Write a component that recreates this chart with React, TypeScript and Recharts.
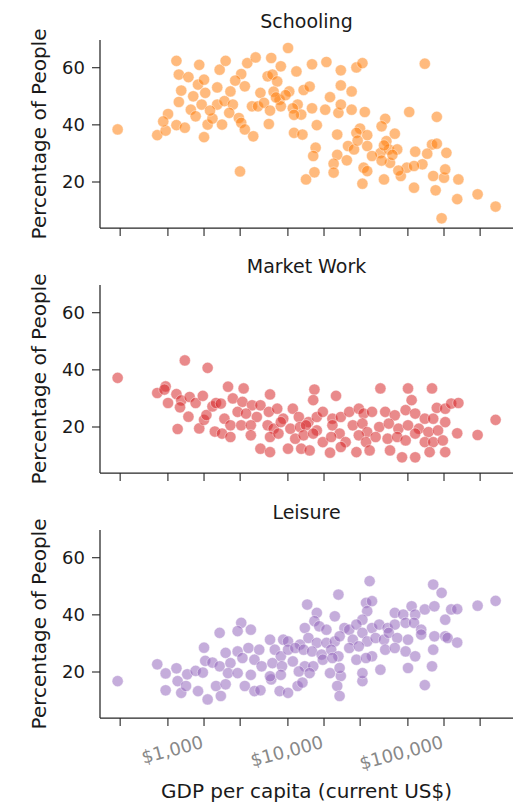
import React from 'react';
import { ScatterChart, Scatter, XAxis, YAxis } from 'recharts';

const FONT = '"DejaVu Sans", Verdana, sans-serif';

// x values are log10 of GDP per capita (current US$)
const xTicks = [2.301, 2.699, 3, 3.301, 3.699, 4, 4.301, 4.699, 5, 5.301];
const xTickLabels: Record<string, string> = { '3': '$1,000', '4': '$10,000', '5': '$100,000' };
const yTicks = [20, 40, 60];
const xDomain: [number, number] = [2.133, 5.575];
const yDomain: [number, number] = [3.9, 69.7];

const panelTitles = ['Schooling', 'Market Work', 'Leisure'];
const panelColors = ['#ff7f0e', '#d62728', '#9467bd'];
const yAxisTitle = 'Percentage of People';
const xAxisTitle = 'GDP per capita (current US$)';

const schoolingPoints: [number, number][] = [
  [2.28,38.4],[2.61,36.4],[2.68,38.0],[2.70,43.8],[2.66,41.2],[2.77,39.9],[2.84,39.0],[2.77,62.4],[2.79,57.6],[2.87,56.7],
  [2.81,52.0],[2.79,48.0],[2.89,45.3],[2.93,43.0],[2.96,61.0],[2.95,54.1],[3.00,55.8],[3.01,51.2],[2.98,47.1],[3.03,40.1],
  [3.00,35.7],[3.07,42.2],[3.11,53.1],[3.13,59.3],[3.18,62.4],[3.11,47.1],[3.15,40.1],[3.17,48.3],[3.22,51.7],[3.24,47.1],
  [3.21,44.2],[3.31,57.8],[3.36,61.6],[3.34,53.5],[3.29,42.4],[3.31,40.7],[3.34,38.4],[3.41,36.0],[3.40,46.5],[3.45,46.5],
  [3.43,63.6],[3.47,51.2],[3.50,47.7],[3.54,40.3],[3.56,63.4],[3.64,60.5],[3.53,57.0],[3.57,57.6],[3.61,55.2],[3.63,48.8],
  [3.64,46.5],[3.70,66.9],[3.71,51.7],[3.77,58.7],[3.75,37.2],[3.82,36.6],[3.85,20.9],[3.30,23.7],[3.78,47.1],[3.81,43.6],
  [3.58,51.6],[3.74,45.8],[3.75,43.5],[3.83,52.2],[3.88,53.4],[3.90,61.2],[3.90,45.8],[3.92,23.4],[4.47,30.1],[4.11,29.5],
  [3.60,49.6],[3.68,50.4],[3.55,45.0],[3.26,55.5],[3.05,45.0],[2.91,50.0],
  [4.02,62.0],[4.14,59.1],[4.27,60.1],[4.32,61.6],[4.84,61.4],[4.14,53.8],[4.23,51.7],[4.05,49.7],[4.01,45.3],[4.12,44.2],
  [4.23,45.3],[4.34,44.5],[4.14,47.1],[4.71,44.5],[4.94,42.8],[4.51,42.1],[4.48,39.5],[4.30,38.7],[4.36,36.4],[4.27,37.2],
  [4.59,36.9],[4.11,36.6],[3.94,39.9],[3.93,32.0],[3.91,29.1],[4.08,26.4],[4.08,23.3],[4.19,27.6],[4.20,32.6],[4.25,31.4],
  [4.36,32.6],[4.52,34.3],[4.54,31.4],[4.61,31.4],[4.40,29.1],[4.55,26.7],[4.33,25.0],[4.36,23.8],[4.32,19.4],[4.50,20.9],
  [4.64,22.1],[4.69,25.0],[4.75,18.0],[4.82,26.2],[4.75,25.6],[4.90,33.1],[4.94,33.4],[5.02,30.2],[4.91,22.1],[5.00,21.5],
  [5.01,24.4],[5.12,20.9],[4.93,17.1],[5.11,14.0],[5.28,15.7],[5.43,11.4],[4.98,7.3],[4.76,30.6],[4.86,29.9],
  [4.50,32.8],[4.57,29.5],[4.48,27.5],[4.62,24.0],[4.28,34.5],
];

const marketWorkPoints: [number, number][] = [
  [2.28,37.2],[2.61,31.9],[2.68,34.2],[2.67,33.1],[2.70,28.4],[2.78,19.3],[2.77,31.5],[2.81,29.3],[2.84,43.3],[2.80,26.9],
  [2.88,30.5],[2.87,23.6],[2.93,28.4],[2.96,19.5],[2.99,30.9],[3.03,40.7],[3.00,22.5],[3.02,24.2],[3.07,27.2],[3.10,28.4],
  [3.09,18.4],
  [3.20,34.1],[3.33,33.5],[3.55,31.4],[3.92,33.1],[3.91,29.4],[4.10,30.9],[4.47,33.5],[4.70,33.5],[4.73,29.4],[4.90,33.5],
  [4.94,26.7],[5.01,26.4],[5.06,28.2],[3.14,28.2],[3.24,30.0],[3.32,28.8],[3.40,27.6],[3.47,27.6],[3.28,25.3],[3.35,24.7],
  [3.44,23.5],[3.54,25.3],[3.61,26.4],[3.74,26.4],[3.66,22.9],[3.79,23.5],[3.87,21.7],[3.94,23.5],[3.99,25.3],[4.07,22.9],
  [4.14,23.5],[4.21,25.3],[4.29,26.4],[4.33,24.7],[4.40,25.3],[4.51,25.3],[4.59,24.1],[4.68,25.9],[4.76,24.7],[4.84,22.9],
  [4.91,22.9],[5.01,21.7],[3.17,22.9],[3.22,20.6],[3.31,20.6],[3.39,20.6],[3.53,20.6],[3.58,19.4],[3.64,21.7],[3.72,19.4],
  [3.80,20.0],[3.85,20.6],[3.94,18.8],[4.07,20.6],[4.13,17.7],[4.24,20.6],[4.32,21.2],[4.36,18.2],[4.46,20.0],[4.54,21.2],
  [4.62,19.4],[4.70,20.6],[4.79,19.4],[4.87,18.2],[4.95,18.8],[3.15,17.7],[3.22,16.5],[3.39,17.1],[3.55,16.5],[3.62,17.7],
  [3.76,15.9],[3.83,17.1],[3.91,17.7],[3.99,14.7],[4.06,16.5],[4.18,14.7],[4.29,17.1],[4.35,14.7],[4.43,16.5],[4.53,15.9],
  [4.61,16.5],[4.68,15.3],[4.76,17.7],[4.84,14.7],[4.91,14.7],[4.99,15.3],[3.47,12.4],[3.55,11.2],[3.70,12.4],[3.81,12.4],
  [3.88,11.8],[4.05,11.0],[4.14,13.0],[4.27,11.2],[4.38,11.8],[4.55,11.8],[4.65,9.4],[4.76,9.4],[4.88,11.2],[5.01,11.2],
  [5.12,28.4],[5.11,17.8],[5.28,17.2],[5.43,22.5],
];

const leisurePoints: [number, number][] = [
  [2.28,16.8],[2.61,22.7],[2.68,19.5],[2.68,13.6],[2.77,21.3],[2.78,16.8],[2.81,12.7],[2.86,19.2],[2.85,15.1],[2.93,20.4],
  [2.95,13.3],[3.00,28.5],[2.99,19.8],[3.01,23.9],[3.03,10.4],[3.07,23.3],[3.10,15.1],
  [3.14,11.6],[3.18,15.7],[3.34,15.1],[3.42,13.3],[3.47,13.6],[3.56,17.4],[3.63,13.3],[3.70,12.7],[3.78,15.1],[3.82,16.3],
  [4.14,18.6],[4.11,15.1],[4.13,11.6],[4.32,16.8],[4.84,15.4],
  [4.38,51.8],[4.12,47.1],[4.91,50.6],[4.98,47.7],[3.86,43.6],[4.35,44.2],[4.40,44.8],[3.94,40.7],[4.09,39.5],[4.36,41.3],
  [4.32,38.3],[4.59,40.7],[4.66,40.1],[4.73,43.0],[4.76,40.1],[4.84,41.9],[4.92,43.0],[5.01,38.3],[5.06,41.9],[3.31,37.2],
  [3.84,35.4],[3.92,37.8],[3.96,36.0],[4.02,34.8],[4.17,35.4],[4.21,34.8],[4.27,36.6],[4.40,35.4],[4.46,36.6],[4.53,35.4],
  [4.59,36.6],[4.68,37.2],[4.75,37.2],[4.81,34.8],[4.92,32.5],[5.01,32.5],[3.39,34.8],[3.28,34.3],[3.13,33.7],[3.55,31.3],
  [3.66,31.3],[3.70,30.7],[3.80,29.6],[3.87,31.9],[3.94,30.2],[4.02,30.2],[4.09,30.7],[4.13,32.5],[4.24,31.3],[4.32,33.7],
  [4.36,30.7],[4.43,31.9],[4.50,31.3],[4.54,33.7],[4.61,31.9],[4.70,31.3],[4.81,33.1],[4.91,27.8],[5.03,31.9],[3.18,26.7],
  [3.28,27.2],[3.37,28.4],[3.46,27.8],[3.59,27.8],[3.64,25.5],[3.70,27.8],[3.76,28.4],[3.83,27.8],[3.90,27.2],[3.98,26.1],
  [4.06,27.8],[4.12,25.5],[4.21,28.4],[4.29,29.0],[4.40,25.5],[4.51,27.8],[4.59,28.4],[4.68,27.2],[4.76,25.5],[3.13,22.0],
  [3.22,23.1],[3.32,24.9],[3.42,24.3],[3.48,22.0],[3.57,23.1],[3.65,22.0],[3.74,23.7],[3.84,22.0],[3.91,22.0],[3.99,24.3],
  [4.07,24.9],[4.27,24.3],[4.35,24.9],[4.47,20.8],[4.70,21.4],[4.90,22.0],[3.20,19.6],[3.28,19.6],[3.39,19.0],[3.55,18.5],
  [3.64,19.0],[3.79,20.2],[3.88,19.6],[4.05,19.6],[4.13,21.4],[4.32,19.6],
  [5.11,30.3],[5.11,42.0],[5.28,43.2],[5.43,44.9],
];

const panelData = [schoolingPoints, marketWorkPoints, leisurePoints];

const AXIS_COLOR = '#262626';

const makeDot = (color: string) => (props: any) => {
  if (props.cx == null || props.cy == null) return <g />;
  return (
    <circle cx={props.cx} cy={props.cy} r={5.6} fill={color} fillOpacity={0.54}
      stroke="#ffffff" strokeOpacity={0.6} strokeWidth={0.7} />
  );
};

const makeXTick = (showLabels: boolean) => (props: any) => {
  const { x, y, payload } = props;
  const key = String(Math.round(payload.value * 1000) / 1000);
  const label = showLabels ? xTickLabels[key] : undefined;
  if (!label) return <g />;
  return (
    <text x={x - 3} y={y} transform={`rotate(-15 ${x - 3} ${y})`} textAnchor="end" dy="0.72em"
      fontSize={18} fill="#888888" fontFamily={FONT}>{label}</text>
  );
};

const YTick = (props: any) => {
  const { x, y, payload } = props;
  return (
    <text x={x} y={y} textAnchor="end" dy="0.36em" fontSize={18} fill="#1a1a1a" fontFamily={FONT}>
      {payload.value}
    </text>
  );
};

const panels = [
  { top: 0, height: 250, marginTop: 40, xHeight: 20, labels: false },
  { top: 250, height: 245, marginTop: 35, xHeight: 20, labels: false },
  { top: 495, height: 314, marginTop: 35, xHeight: 89, labels: true },
];

export default function App() {
  return (
    <div style={{ position: 'absolute', left: 0, top: 0, width: 529, height: 809, background: '#fff' }}>
      {panels.map((p, i) => (
        <div key={i} style={{ position: 'absolute', left: 0, top: p.top }}>
          <ScatterChart width={529} height={p.height}
            margin={{ top: p.marginTop, right: 16, bottom: 2, left: 40 }}>
            <XAxis type="number" dataKey="x" domain={xDomain} ticks={xTicks} interval={0}
              allowDataOverflow height={p.xHeight} tickSize={8} tickMargin={9}
              axisLine={{ stroke: AXIS_COLOR, strokeWidth: 1.25 }}
              tickLine={{ stroke: AXIS_COLOR, strokeWidth: 1.1 }}
              tick={makeXTick(p.labels)} />
            <YAxis type="number" dataKey="y" domain={yDomain} ticks={yTicks} interval={0}
              allowDataOverflow width={60} tickSize={8} tickMargin={7}
              axisLine={{ stroke: AXIS_COLOR, strokeWidth: 1.25 }}
              tickLine={{ stroke: AXIS_COLOR, strokeWidth: 1.1 }}
              tick={YTick} />
            <Scatter data={panelData[i].map(([x, y]) => ({ x, y }))}
              shape={makeDot(panelColors[i])} isAnimationActive={false} />
          </ScatterChart>
        </div>
      ))}
      <svg width={529} height={809} style={{ position: 'absolute', left: 0, top: 0, pointerEvents: 'none' }}>
        {[28, 273, 519].map((ty, i) => (
          <text key={'t' + i} x={306.5} y={ty} textAnchor="middle" fontSize={19} fill="#1a1a1a" fontFamily={FONT}>
            {panelTitles[i]}
          </text>
        ))}
        {[134, 379, 624].map((cy, i) => (
          <text key={'y' + i} x={46} y={cy} transform={`rotate(-90 46 ${cy})`} textAnchor="middle"
            fontSize={20} fill="#1a1a1a" fontFamily={FONT}>{yAxisTitle}</text>
        ))}
        <text x={306.5} y={798} textAnchor="middle" fontSize={20} fill="#1a1a1a" fontFamily={FONT}>{xAxisTitle}</text>
      </svg>
    </div>
  );
}
